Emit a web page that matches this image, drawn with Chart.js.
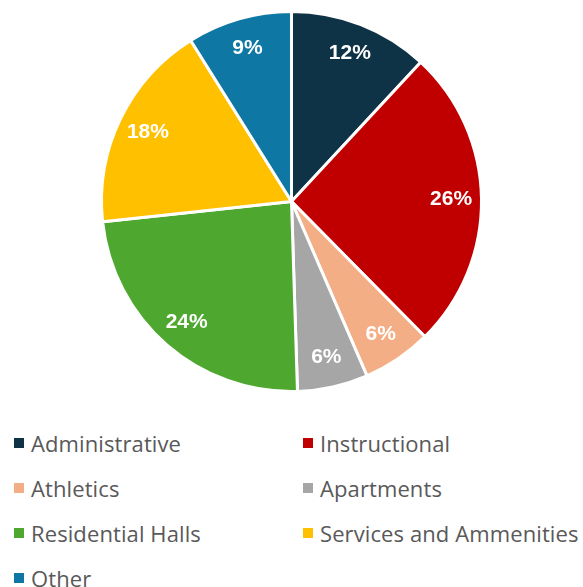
<!DOCTYPE html>
<html>
<head>
<meta charset="utf-8">
<script src="https://cdn.jsdelivr.net/npm/chart.js@4"></script>
<style>
    html, body { margin: 0; padding: 0; background: #fff; }
    body { width: 583px; height: 587px; position: relative; overflow: hidden; font-family: "Open Sans", "Noto Sans", sans-serif; }
    #wrap { position: absolute; left: 0; top: 0; width: 583px; height: 393px; }
    #legend { position: absolute; left: 0; top: 426px; width: 583px; }
    .item { position: absolute; display: flex; align-items: center; font-size: 22px; color: #595959; white-space: nowrap; height: 30px; letter-spacing: 0.1px; }
    .sw { width: 10px; height: 10px; margin-right: 7px; }
</style>
</head>
<body>
<div id="wrap"><canvas id="pie"></canvas></div>
<div id="legend"></div>
<script>
// Categories and shares
const categories = ['Administrative', 'Instructional', 'Athletics', 'Apartments', 'Residential Halls', 'Services and Ammenities', 'Other'];
const shares = [11.9, 25.7, 5.9, 6.0, 23.8, 17.8, 8.9];
const labels = ['12%', '26%', '6%', '6%', '24%', '18%', '9%'];
const colors = ['#0E3346', '#C00000', '#F4AE85', '#A6A6A6', '#4EA72E', '#FFC000', '#0F77A3'];

// Percent labels inside slices
const sliceLabels = {
    id: 'sliceLabels',
    afterDatasetsDraw(chart) {
        const ctx = chart.ctx;
        const meta = chart.getDatasetMeta(0);
        ctx.save();
        ctx.font = 'bold 21px "Liberation Sans", Arial, sans-serif';
        ctx.fillStyle = '#fff';
        ctx.textAlign = 'center';
        ctx.textBaseline = 'middle';
        meta.data.forEach((arc, i) => {
            const p = arc.getProps(['x', 'y', 'startAngle', 'endAngle', 'outerRadius'], true);
            const mid = (p.startAngle + p.endAngle) / 2;
            const r = p.outerRadius * 0.84;
            ctx.fillText(labels[i], p.x + Math.cos(mid) * r, p.y + Math.sin(mid) * r);
        });
        ctx.restore();
    }
};

new Chart(document.getElementById('pie'), {
    type: 'pie',
    data: {
        labels: categories,
        datasets: [{
            data: shares,
            backgroundColor: colors,
            borderColor: '#fff',
            borderWidth: 3
        }]
    },
    options: {
        responsive: true,
        maintainAspectRatio: false,
        animation: false,
        layout: { padding: { top: 10, bottom: 0 } },
        plugins: {
            legend: { display: false },
            tooltip: { enabled: false }
        }
    },
    plugins: [sliceLabels]
});

// HTML legend, two columns
const legend = document.getElementById('legend');
categories.forEach((name, i) => {
    const el = document.createElement('div');
    el.className = 'item';
    el.style.left = (i % 2 === 0 ? 14 : 303) + 'px';
    el.style.top = (Math.floor(i / 2) * 45 + 2) + 'px';
    el.innerHTML = `<span class="sw" style="background:${colors[i]}"></span>${name}`;
    legend.appendChild(el);
});
</script>
</body>
</html>
